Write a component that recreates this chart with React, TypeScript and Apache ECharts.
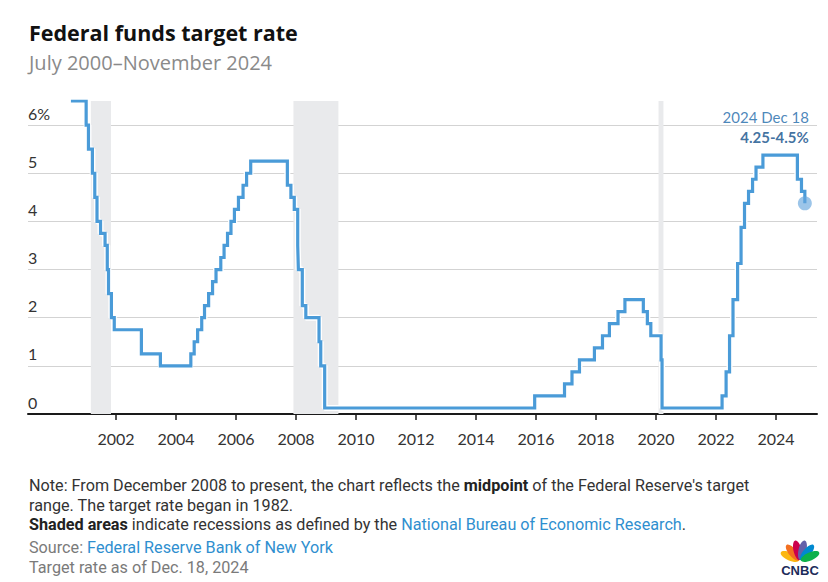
import React, { useEffect, useRef } from "react";
import * as echarts from "echarts";

// Federal funds target rate changes (date of change, new rate / midpoint in %)
const changeDates = [
  "2000-07-01", "2001-01-03", "2001-01-31", "2001-03-20", "2001-04-18", "2001-05-15",
  "2001-06-27", "2001-08-21", "2001-09-17", "2001-10-02", "2001-11-06", "2001-12-11",
  "2002-11-06", "2003-06-25", "2004-06-30", "2004-08-10", "2004-09-21", "2004-11-10",
  "2004-12-14", "2005-02-02", "2005-03-22", "2005-05-03", "2005-06-30", "2005-08-09",
  "2005-09-20", "2005-11-01", "2005-12-13", "2006-01-31", "2006-03-28", "2006-05-10",
  "2006-06-29", "2007-09-18", "2007-10-31", "2007-12-11", "2008-01-22", "2008-01-30",
  "2008-03-18", "2008-04-30", "2008-10-08", "2008-10-29", "2008-12-16", "2015-12-16",
  "2016-12-14", "2017-03-15", "2017-06-14", "2017-12-13", "2018-03-21", "2018-06-13",
  "2018-09-26", "2018-12-19", "2019-07-31", "2019-09-18", "2019-10-30", "2020-03-03",
  "2020-03-15", "2022-03-16", "2022-05-04", "2022-06-15", "2022-07-27", "2022-09-21",
  "2022-11-02", "2022-12-14", "2023-02-01", "2023-03-22", "2023-05-03", "2023-07-26",
  "2024-09-18", "2024-11-07", "2024-12-18",
];
const targetRates = [
  6.5, 6.0, 5.5, 5.0, 4.5, 4.0,
  3.75, 3.5, 3.0, 2.5, 2.0, 1.75,
  1.25, 1.0, 1.25, 1.5, 1.75, 2.0,
  2.25, 2.5, 2.75, 3.0, 3.25, 3.5,
  3.75, 4.0, 4.25, 4.5, 4.75, 5.0,
  5.25, 4.75, 4.5, 4.25, 3.5, 3.0,
  2.25, 2.0, 1.5, 1.0, 0.125, 0.375,
  0.625, 0.875, 1.125, 1.375, 1.625, 1.875,
  2.125, 2.375, 2.125, 1.875, 1.625, 1.125,
  0.125, 0.375, 0.875, 1.625, 2.375, 3.125,
  3.875, 4.375, 4.625, 4.875, 5.125, 5.375,
  4.875, 4.625, 4.375,
];

// Recessions (NBER)
const recessionStarts = ["2001-03-01", "2007-12-01", "2020-02-01"];
const recessionEnds = ["2001-11-01", "2009-06-01", "2020-04-01"];

const xTickYears = [2002, 2004, 2006, 2008, 2010, 2012, 2014, 2016, 2018, 2020, 2022, 2024];
const yTicks = [0, 1, 2, 3, 4, 5, 6];

const titleText = "Federal funds target rate";
const subtitleText = "July 2000\u2013November 2024";
const annotationDate = "2024 Dec 18";
const annotationRange = "4.25-4.5%";

function toYear(d: string): number {
  const [y, m, dd] = d.split("-").map(Number);
  const start = Date.UTC(y, 0, 1);
  const end = Date.UTC(y + 1, 0, 1);
  return y + (Date.UTC(y, m - 1, dd) - start) / (end - start);
}

const LINE = "#4a9bd8";
const LINK = "#2f8fcf";
const HEAD_FONT = "'Open Sans', Lato, sans-serif";
const AXIS_FONT = "Lato, 'Open Sans', sans-serif";

export default function App() {
  const ref = useRef<HTMLDivElement>(null);

  useEffect(() => {
    if (!ref.current) return;
    const chart = echarts.init(ref.current, undefined, { renderer: "svg" });
    const lineData = changeDates.map((d, i) => [toYear(d), targetRates[i]]);
    const last = lineData[lineData.length - 1];
    const areas = recessionStarts.map((s, i) => [
      { xAxis: toYear(s) },
      { xAxis: toYear(recessionEnds[i]) },
    ]);

    const noteFont = "Roboto, 'Liberation Sans', sans-serif";
    const noteSize = 16.2;
    const feathers = [
      { a: -66, c: "#fcb711" },
      { a: -40, c: "#f37021" },
      { a: -13, c: "#cc004c" },
      { a: 13, c: "#6460aa" },
      { a: 40, c: "#0089d0" },
      { a: 66, c: "#0db14b" },
    ];

    chart.setOption({
      animation: false,
      backgroundColor: "#ffffff",
      grid: { left: 28, right: 11, top: 101, bottom: 168, containLabel: false },
      xAxis: {
        type: "value",
        min: 1999.067,
        max: 2025.367,
        axisLine: { show: true, lineStyle: { color: "#1a1a1a", width: 2 } },
        axisTick: {
          show: true,
          customValues: xTickYears,
          length: 6,
          lineStyle: { color: "#1a1a1a", width: 1.5 },
        },
        axisLabel: {
          customValues: xTickYears,
          formatter: (v: number) => String(Math.round(v)),
          color: "#333333",
          fontFamily: AXIS_FONT,
          fontSize: 16,
          margin: 16,
        },
        splitLine: { show: false },
      },
      yAxis: {
        type: "value",
        min: 0,
        max: 6.5,
        interval: 1,
        axisLine: { show: false },
        axisTick: { show: false },
        axisLabel: {
          inside: true,
          margin: 0,
          showMaxLabel: false,
          verticalAlign: "bottom",
          padding: [0, 0, 4, 0],
          color: "#333333",
          fontFamily: AXIS_FONT,
          fontSize: 16,
          formatter: (v: number) => (v === 6 ? "6%" : yTicks.includes(v) ? String(v) : ""),
        },
        splitLine: {
          show: true,
          showMinLine: false,
          showMaxLine: false,
          lineStyle: { color: "#d3d3d3", width: 1 },
        },
      },
      series: [
        {
          type: "line",
          step: "end",
          data: lineData,
          showSymbol: false,
          silent: true,
          z: 2,
          lineStyle: { color: "#ffffff", width: 6 },
          markArea: {
            silent: true,
            itemStyle: { color: "#e9eaec" },
            data: areas,
          },
        },
        {
          type: "line",
          step: "end",
          data: lineData,
          showSymbol: false,
          z: 3,
          lineStyle: { color: LINE, width: 3.2, join: "miter" },
        },
        {
          type: "scatter",
          data: [last],
          z: 4,
          symbolSize: 14,
          itemStyle: { color: "rgba(100,165,220,0.8)" },
          label: {
            show: true,
            position: "top",
            distance: 5,
            align: "right",
            offset: [4, -44],
            lineHeight: 20,
            formatter: `{d|${annotationDate}}\n{r|${annotationRange}}`,
            rich: {
              d: {
                fontFamily: AXIS_FONT,
                fontSize: 15,
                color: "#1b68a8",
                lineHeight: 20,
                align: "right",
              },
              r: {
                fontFamily: AXIS_FONT,
                fontSize: 15,
                fontWeight: "bold",
                color: "#0f4e88",
                lineHeight: 20,
                align: "right",
              },
            },
          },
        },
      ],
      graphic: [
        {
          type: "text",
          x: 29,
          y: 32,
          style: {
            text: titleText,
            verticalAlign: "middle",
            fontFamily: HEAD_FONT,
            fontWeight: "bold",
            fontSize: 21.5,
            fill: "#111111",
          },
        },
        {
          type: "text",
          x: 29,
          y: 62,
          style: {
            text: subtitleText,
            verticalAlign: "middle",
            fontFamily: HEAD_FONT,
            fontSize: 20,
            fill: "#8a8a8a",
          },
        },
        {
          type: "text",
          x: 29,
          y: 485,
          style: {
            text: "{n|Note: From December 2008 to present, the chart reflects the }{b|midpoint}{n| of the Federal Reserve's target}",
            verticalAlign: "middle",
            rich: {
              n: { fontFamily: noteFont, fontSize: noteSize, fill: "#333333" },
              b: { fontFamily: noteFont, fontSize: noteSize, fontWeight: "bold", fill: "#222222" },
            },
          },
        },
        {
          type: "text",
          x: 29,
          y: 505,
          style: {
            text: "range. The target rate began in 1982.",
            verticalAlign: "middle",
            fontFamily: noteFont,
            fontSize: noteSize,
            fill: "#333333",
          },
        },
        {
          type: "text",
          x: 29,
          y: 524,
          style: {
            text: "{b|Shaded areas}{n| indicate recessions as defined by the }{l|National Bureau of Economic Research}{n|.}",
            verticalAlign: "middle",
            rich: {
              n: { fontFamily: noteFont, fontSize: noteSize, fill: "#333333" },
              b: { fontFamily: noteFont, fontSize: noteSize, fontWeight: "bold", fill: "#222222" },
              l: { fontFamily: noteFont, fontSize: noteSize, fill: LINK },
            },
          },
        },
        {
          type: "text",
          x: 29,
          y: 547,
          style: {
            text: "{g|Source: }{l|Federal Reserve Bank of New York}",
            verticalAlign: "middle",
            rich: {
              g: { fontFamily: noteFont, fontSize: noteSize, fill: "#7a7a7a" },
              l: { fontFamily: noteFont, fontSize: noteSize, fill: LINK },
            },
          },
        },
        {
          type: "text",
          x: 29,
          y: 567,
          style: {
            text: "Target rate as of Dec. 18, 2024",
            verticalAlign: "middle",
            fontFamily: noteFont,
            fontSize: noteSize,
            fill: "#7a7a7a",
          },
        },
        ...feathers.map((f) => ({
          type: "group",
          x: 800,
          y: 561,
          rotation: (-f.a * Math.PI) / 180,
          children: [
            {
              type: "ellipse",
              shape: { cx: 0, cy: -11, rx: 4, ry: 10 },
              style: { fill: f.c },
            },
          ],
        })),
        {
          type: "text",
          x: 800,
          y: 570,
          style: {
            text: "CNBC",
            align: "center",
            verticalAlign: "middle",
            fontFamily: "'Liberation Sans', Arial, sans-serif",
            fontWeight: "bold",
            fontSize: 13,
            fill: "#1c2b5a",
          },
        },
      ],
    });
    return () => chart.dispose();
  }, []);

  return (
    <div
      ref={ref}
      style={{ position: "fixed", left: 0, top: 0, width: 828, height: 582, background: "#fff" }}
    />
  );
}
